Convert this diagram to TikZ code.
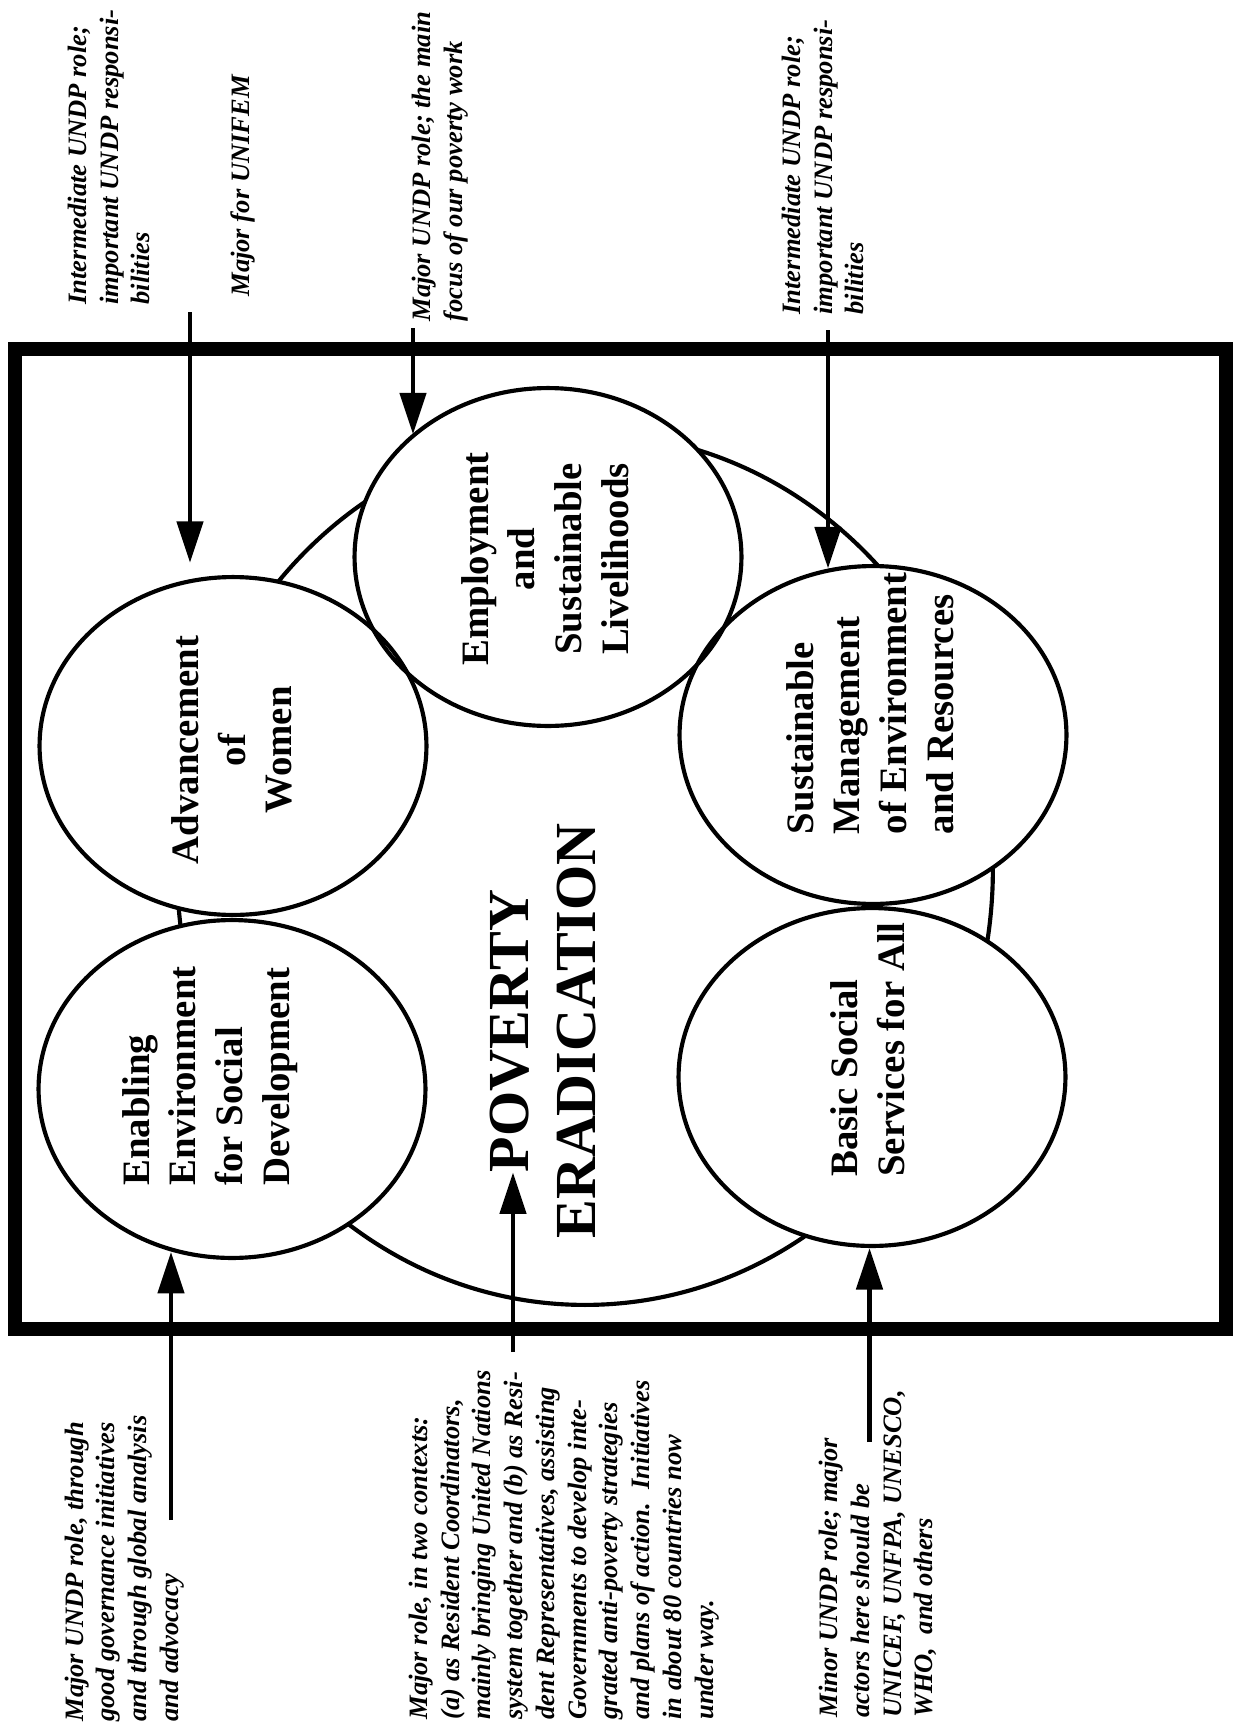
\documentclass[tikz,border=0pt]{standalone}
\usepackage{fontspec}
\setmainfont{Liberation Serif}
\usepackage{tikz}
\usetikzlibrary{shapes.geometric,arrows.meta,backgrounds}

\begin{document}
\begin{tikzpicture}[
    x=0.016933cm, y=-0.016933cm,
    ring/.style={ellipse, draw, line width=2pt, inner sep=0pt, minimum width=6.553cm, minimum height=5.723cm},
    core/.style={ellipse, draw, line width=2pt, inner sep=0pt, minimum width=13.817cm, minimum height=14.766cm},
    ringtext/.style={rotate=90, inner sep=0pt, font=\bfseries\fontsize{18.7}{22.5}\selectfont},
    bigtext/.style={rotate=90, inner sep=0pt, font=\bfseries\fontsize{28}{32}\selectfont},
    note/.style={rotate=90, anchor=west, align=left, inner sep=0pt, font=\bfseries\itshape\fontsize{12.8}{15.3}\selectfont},
    arrow/.style={-{Triangle[length=20pt,width=12.5pt]}, line width=2.4pt}
]
\useasboundingbox (0,0) rectangle (1241,1730);
\draw[line width=7.2pt] (15,349) rectangle (1226,1329);

\node[ring] (enab) at (232,1089) {};
\node[ring] (adv) at (233,746) {};
\node[ring] (emp) at (548,557) {};
\node[ring] (sust) at (873,735) {};
\node[ring] (basic) at (872,1077) {};

\begin{scope}[on background layer]
\node[core] (core) at (585,869) {};
\foreach \c in {enab,adv,emp,sust,basic}
    \fill[white] (\c.center) ellipse [x radius=3.2765cm, y radius=2.8617cm];
\end{scope}

\node[ringtext, align=left] (enabtxt) at (210,1076) {Enabling\\Environment\\for Social\\Development};
\node[ringtext, align=center] (advtxt) at (232,750) {Advancement\\of\\Women};
\node[ringtext, align=center] (emptxt) at (545,559) {Employment\\and\\Sustainable\\Livelihoods};
\node[ringtext, align=left] (susttxt) at (870,703.5) {Sustainable\\Management\\of Environment\\and Resources};
\node[ringtext, align=left] (basictxt) at (868,1049.5) {Basic Social\\Services for All};
\node[bigtext] (poverty) at (510,1031) {POVERTY};
\node[bigtext] (eradication) at (577,1031) {ERADICATION};

\node[note] (notewomenleft) at (109,305) {Intermediate UNDP role;\\important UNDP responsi-\\bilities};
\node[note] (noteunifem) at (243,297) {Major for UNIFEM};
\node[note] (noteemp) at (440,322) {Major UNDP role; the main\\focus of our poverty work};
\node[note] (notesust) at (823,315) {Intermediate UNDP role;\\important UNDP responsi-\\bilities};
\node[note] (noteenab) at (124.5,1722) {Major UNDP role, through\\good governance initiatives\\and through global analysis\\and advocacy};
\node[note] (notecore) at (564,1720) {Major role, in two contexts:\\(a) as Resident Coordinators,\\mainly bringing United Nations\\system together and (b) as Resi-\\dent Representatives, assisting\\Governments to develop inte-\\grated anti-poverty strategies\\and plans of action.\ \ Initiatives\\in about 80 countries now\\under way.};
\node[note] (notebasic) at (878,1718) {Minor UNDP role; major\\actors here should be\\UNICEF, UNFPA, UNESCO,\\WHO,\ \ and others};

\coordinate (ta) at (190,312);
\coordinate (tb) at (413,328);
\coordinate (tc) at (828,330);
\coordinate (td) at (171,1520);
\coordinate (te) at (513,1352);
\coordinate (tf) at (869.5,1442);

\draw[arrow, shorten >=8pt] (ta) -- (ta |- adv.105);
\draw[arrow] (tb) -- (tb |- emp.138);
\draw[arrow] (tc) -- (tc |- sust.105);
\draw[arrow] (td) -- (td |- enab.250);
\draw[arrow] (te) -- (te |- poverty.west);
\draw[arrow] (tf) -- (tf |- basic.south);
\end{tikzpicture}
\end{document}
